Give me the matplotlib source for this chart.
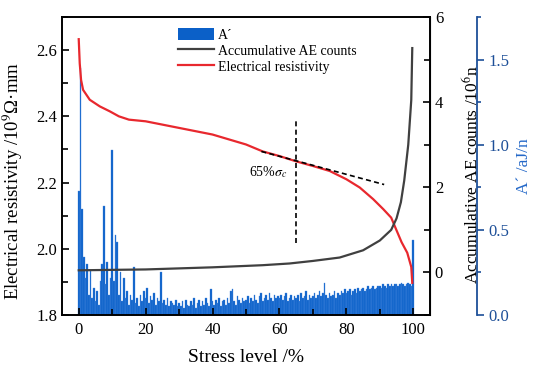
import numpy as np
import matplotlib
matplotlib.use("Agg")
import matplotlib.pyplot as plt
from matplotlib.patches import Patch
from matplotlib.lines import Line2D
from matplotlib.ticker import MultipleLocator

plt.rcParams['font.family'] = ['Liberation Serif', 'DejaVu Serif']
plt.rcParams['mathtext.fontset'] = 'stix'

# ---------------- data ----------------
# electrical resistivity (10^9 Ohm mm) vs stress level (%)
res_stress = [0, 0.3, 0.7, 1.3, 3.3, 6.3, 9.3, 12, 15, 20, 25, 30, 35, 40, 45, 50,
              55, 60, 65, 70, 75, 80, 84, 88, 91, 93.4, 94.9, 96.5, 98.2, 99.4, 99.7]
resistivity = [2.633, 2.56, 2.51, 2.48, 2.45, 2.43, 2.415, 2.40, 2.39, 2.385, 2.375,
               2.365, 2.355, 2.345, 2.33, 2.315, 2.294, 2.28, 2.264, 2.25, 2.235,
               2.21, 2.185, 2.15, 2.12, 2.094, 2.058, 2.02, 1.988, 1.945, 1.897]

# accumulative AE counts (10^6) vs stress level (%)
ae_stress = [0, 20, 40, 55, 63, 70, 78, 85, 90, 93.4, 95, 96.3, 97.3, 98.5, 99.4, 99.7]
ae_counts = [0.05, 0.07, 0.12, 0.17, 0.21, 0.27, 0.35, 0.52, 0.75, 1.0, 1.27, 1.65,
             2.16, 3.0, 4.05, 5.27]

# A' (aJ/n) bars, every 0.5 % of stress level
a_stress = [i * 0.5 for i in range(201)]
a_values = [
    0.73, 1.45, 0.62, 0.34, 0.22, 0.30, 0.12, 0.26, 0.10, 0.16,
    0.08, 0.14, 0.06, 0.20, 0.30, 0.64, 0.18, 0.31, 0.12, 0.22,
    0.97, 0.20, 0.47, 0.43, 0.12, 0.25, 0.08, 0.22, 0.10, 0.14,
    0.06, 0.12, 0.09, 0.28, 0.07, 0.10, 0.05, 0.12, 0.08, 0.14,
    0.10, 0.16, 0.07, 0.11, 0.09, 0.13, 0.06, 0.10, 0.08, 0.25,
    0.07, 0.09, 0.06, 0.10, 0.05, 0.08, 0.07, 0.06, 0.09, 0.05,
    0.07, 0.05, 0.08, 0.04, 0.09, 0.06, 0.05, 0.08, 0.06, 0.10,
    0.04, 0.07, 0.09, 0.05, 0.08, 0.06, 0.10, 0.07, 0.05, 0.15,
    0.08, 0.06, 0.09, 0.07, 0.10, 0.05, 0.08, 0.09, 0.06, 0.10,
    0.07, 0.14, 0.15, 0.08, 0.06, 0.11, 0.09, 0.07, 0.10, 0.08,
    0.09, 0.11, 0.07, 0.10, 0.08, 0.12, 0.09, 0.07, 0.11, 0.13,
    0.08, 0.10, 0.12, 0.09, 0.13, 0.10, 0.08, 0.12, 0.10, 0.11,
    0.10, 0.12, 0.09, 0.11, 0.13, 0.08, 0.10, 0.12, 0.09, 0.11,
    0.10, 0.12, 0.08, 0.13, 0.10, 0.11, 0.14, 0.09, 0.12, 0.10,
    0.11, 0.13, 0.10, 0.12, 0.14, 0.11, 0.13, 0.19, 0.12, 0.10,
    0.13, 0.11, 0.12, 0.14, 0.10, 0.13, 0.12, 0.14, 0.13, 0.15,
    0.13, 0.14, 0.15, 0.12, 0.14, 0.15, 0.13, 0.16, 0.14, 0.15,
    0.16, 0.14, 0.15, 0.17, 0.15, 0.16, 0.17, 0.15, 0.16, 0.17,
    0.17, 0.16, 0.18, 0.17, 0.16, 0.18, 0.17, 0.18, 0.17, 0.18,
    0.18, 0.17, 0.18, 0.19, 0.18, 0.17, 0.18, 0.19, 0.18, 0.17,
    0.44]

tangent_x = [54.6, 91.3]
tangent_y = [2.294, 2.194]
vline_x = [65, 65]
vline_y = [2.018, 2.385]

# ---------------- figure ----------------
W, H = 533, 374
fig = plt.figure(figsize=(W / 100, H / 100), dpi=100)
L, R, T, B = 62, 430, 17, 315
rect = [L / W, 1 - B / H, (R - L) / W, (B - T) / H]

ax = fig.add_axes(rect)
ax3 = ax.twinx()
ax2 = ax.twinx()

ax3.set_zorder(0)
ax.set_zorder(1)
ax2.set_zorder(2)
ax.patch.set_visible(False)
ax2.patch.set_visible(False)
ax3.patch.set_facecolor('white')

bar_color = '#0b60c8'
blue_dark = '#1d4f98'
blue_label = '#2468c8'
red = '#e8282e'
gray = '#404040'

# bars
ax3.bar(a_stress, a_values, width=0.5, color=bar_color, edgecolor='#4a8ae0',
        linewidth=0.25, align='center')
ax3.set_ylim(0, 1.75)
ax3.set_xlim(-5, 105)
for s in ['left', 'top', 'bottom']:
    ax3.spines[s].set_visible(False)
ax3.spines['right'].set_position(('axes', 1 + 47 / (R - L)))
ax3.spines['right'].set_color(blue_dark)
ax3.spines['right'].set_linewidth(1.3)
ax3.yaxis.set_major_locator(MultipleLocator(0.5))
ax3.yaxis.set_minor_locator(MultipleLocator(0.25))
ax3.tick_params(axis='y', which='both', direction='out', colors=blue_dark,
                labelsize=12, width=1.2)
ax3.tick_params(axis='y', which='major', length=5)
ax3.tick_params(axis='y', which='minor', length=3)
ax3.set_yticks([0, 0.5, 1.0, 1.5])
ax3.set_yticklabels(['0.0', '0.5', '1.0', '1.5'])
ax3.set_ylabel("A´ /aJ/n", fontsize=12.5, color=blue_label)
ax3.yaxis.set_label_coords(1 + 86 / (R - L), 0.5)

# resistivity
ax.plot(res_stress, resistivity, color=red, lw=1.6)
ax.plot(tangent_x, tangent_y, color='black', lw=1.2, ls=(0, (3, 2)))
ax.plot(vline_x, vline_y, color='black', lw=1.2, ls=(0, (3, 2)))
ax.text(62.3, 2.232, r'65%$\sigma_c$', fontsize=10, ha='right', va='center')
ax.set_xlim(-5, 105)
ax.set_ylim(1.8, 2.7)
ax.xaxis.set_major_locator(MultipleLocator(20))
ax.xaxis.set_minor_locator(MultipleLocator(10))
ax.yaxis.set_major_locator(MultipleLocator(0.2))
ax.yaxis.set_minor_locator(MultipleLocator(0.1))
ax.tick_params(axis='both', which='both', direction='in', labelsize=12, width=1.2)
ax.tick_params(axis='both', which='major', length=5)
ax.tick_params(axis='both', which='minor', length=4)
ax.tick_params(axis='x', pad=5)
ax.set_yticks([1.8, 2.0, 2.2, 2.4, 2.6])
ax.set_yticklabels(['1.8', '2.0', '2.2', '2.4', '2.6'])
for s in ['left', 'bottom', 'top']:
    ax.spines[s].set_linewidth(1.4)
ax.set_xlabel('Stress level /%', fontsize=14, labelpad=8)
ax.set_ylabel(r'Electrical resistivity /10$^9$Ω·mm', fontsize=13.5)
ax.yaxis.set_label_coords(-37 / (R - L), 0.45)

# AE counts
ax2.plot(ae_stress, ae_counts, color=gray, lw=1.6)
ax2.set_ylim(-1, 6)
ax2.set_xlim(-5, 105)
ax2.yaxis.set_major_locator(MultipleLocator(2))
ax2.yaxis.set_minor_locator(MultipleLocator(1))
ax2.tick_params(axis='y', which='both', direction='in', labelsize=12, width=1.2)
ax2.tick_params(axis='y', which='major', length=5)
ax2.tick_params(axis='y', which='minor', length=4)
ax2.spines['right'].set_linewidth(1.4)
for s in ['left', 'top', 'bottom']:
    ax2.spines[s].set_visible(False)
ax2.set_ylabel(r'Accumulative AE counts /10$^6$n', fontsize=12.5)
ax2.yaxis.set_label_coords(1 + 32 / (R - L), 0.47)

handles = [Patch(facecolor=bar_color, edgecolor='none'),
           Line2D([], [], color=gray, lw=1.6),
           Line2D([], [], color=red, lw=1.6)]
labels = ["A´", 'Accumulative AE counts', 'Electrical resistivity']
leg = ax2.legend(handles, labels, loc='upper left',
                 bbox_to_anchor=((172 - L) / (R - L), (B - 22) / (B - T)),
                 frameon=False, fontsize=10, handlelength=2.6, handleheight=1.0,
                 labelspacing=0.15, handletextpad=0.3, borderaxespad=0)

fig.savefig('out.png', dpi=100)
